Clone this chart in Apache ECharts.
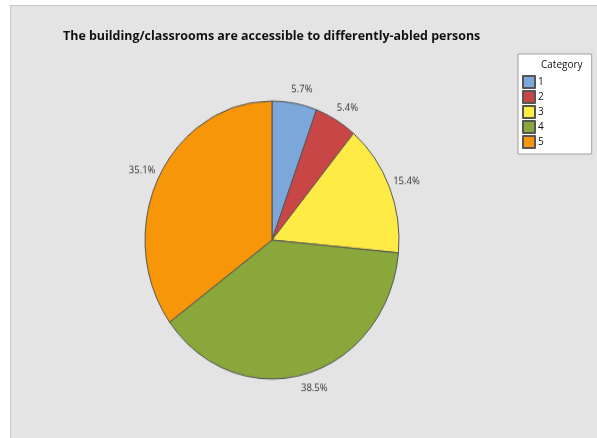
<!DOCTYPE html>
<html><head><meta charset="utf-8">
<script src="https://cdn.jsdelivr.net/npm/echarts@6/dist/echarts.min.js"></script>
<style>html,body{margin:0;padding:0;background:#fff}
#wrap{position:relative;width:597px;height:438px}
#c,#p{position:absolute;left:0;top:0;width:597px;height:438px}
#p{transform:scaleY(1.0945);transform-origin:0 240px}
</style>
</head><body><div id="wrap"><div id="c"></div><div id="p"></div></div>
<script>
const categories = ['1', '2', '3', '4', '5'];
const percents = [5.7, 5.4, 15.4, 38.5, 35.1];
const colors = ['#7BA7DA', '#C94646', '#FFEB45', '#8AA73B', '#F69608'];
const titleText = 'The building/classrooms are accessible to differently-abled persons';

const pieData = categories.map((c, i) => ({name: c, value: percents[i], itemStyle: {color: colors[i]}}));

// background chart: frame, title, legend
const back = echarts.init(document.getElementById('c'), null, {renderer: 'canvas'});
back.setOption({
  animation: false,
  backgroundColor: '#fff',
  graphic: [
    {type: 'rect', z: -10, shape: {x: 10.5, y: 5.5, width: 600, height: 440},
     style: {fill: '#e4e4e4', stroke: '#c8c8c8', lineWidth: 1}},
    {type: 'text', left: 541, top: 60, z: 10,
     style: {text: 'Category', font: '10px "Open Sans"', fill: '#111'}}
  ],
  title: {
    text: titleText, left: 58, top: 25,
    textStyle: {fontFamily: 'Open Sans', fontSize: 12.45, fontWeight: 'bold', color: '#111'}
  },
  legend: {
    orient: 'vertical', left: 518, top: 54, width: 73,
    backgroundColor: '#fff', borderColor: '#a0a0a0', borderWidth: 1,
    padding: [21, 48, 5, 4],
    icon: 'rect', itemWidth: 12, itemHeight: 12, itemGap: 1,
    textStyle: {fontFamily: 'Open Sans', fontSize: 10, lineHeight: 12, color: '#111', padding: [0, 0, 0, -2]},
    data: categories
  },
  series: [{
    type: 'pie', center: [272, 240], radius: 1, silent: true,
    label: {show: false}, labelLine: {show: false},
    itemStyle: {borderColor: '#555', borderWidth: 1},
    data: pieData
  }]
});

// pie chart, stretched vertically to match the elliptical reference pie
const pie = echarts.init(document.getElementById('p'), null, {renderer: 'canvas'});
pie.setOption({
  animation: false,
  series: [{
    type: 'pie',
    center: [272, 240], radius: 127,
    startAngle: 90, clockwise: true,
    label: {show: true, position: 'outside', formatter: '{c}%',
      fontFamily: 'Open Sans', fontSize: 9.5, color: '#333'},
    labelLine: {show: false, length: 13, length2: 0},
    labelLayout: {align: 'center'},
    itemStyle: {borderColor: '#555', borderWidth: 1},
    emphasis: {disabled: true},
    data: pieData
  }]
});
</script></body></html>
